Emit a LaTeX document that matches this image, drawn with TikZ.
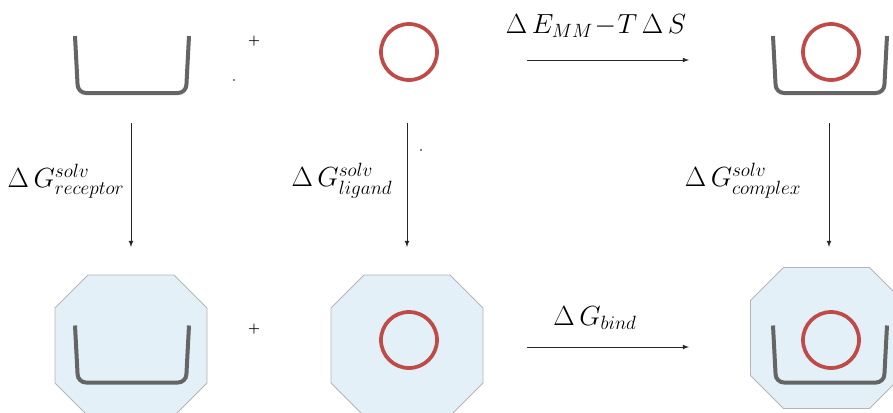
\documentclass[tikz,border=0pt]{standalone}
\usepackage{amsmath}
\usetikzlibrary{arrows}
\definecolor{cupgray}{RGB}{101,101,101}
\definecolor{ringred}{RGB}{190,75,72}
\definecolor{solvblue}{RGB}{227,240,248}
\definecolor{octogray}{RGB}{181,181,181}
% receptor cup, centred at (#1,#2)
\newcommand{\cupat}[2]{\draw[cup] (#1-57,#2-28.5) -- (#1-54,#2+28.5) -- (#1+54,#2+28.5) -- (#1+57,#2-28.5);}
% solvent box, centred at (#1,#2)
\newcommand{\octat}[2]{\draw[octo] (#1-43,#2-70.5) -- (#1+43,#2-70.5) -- (#1+76,#2-37.5) -- (#1+76,#2+37.5)
  -- (#1+43,#2+70.5) -- (#1-43,#2+70.5) -- (#1-76,#2+37.5) -- (#1-76,#2-37.5) -- cycle;}

\begin{document}
\begin{tikzpicture}[x=0.75pt, y=-0.75pt, >=latex,   %Pfeilspitzen
	cup/.style={draw=cupgray, line width=3pt, rounded corners=6pt},
	ring/.style={circle, draw=ringred, line width=2.8pt, minimum size=42pt, inner sep=0pt},
	octo/.style={fill=solvblue, draw=octogray, line width=0.6pt},
	flow/.style={->, draw=black!85, line width=0.6pt},
	term/.style={font=\fontsize{21}{24}\selectfont, inner sep=1pt},
	font=\footnotesize]
	\useasboundingbox (0,0) rectangle (893,412);
	% solvent boxes
	\octat{131}{345.5}
	\octat{407}{345.5}
	\octat{826.5}{338}
	% gas phase
	\cupat{132}{64.5}
	\node[ring] (lig) at (409,52) {};
	\cupat{830}{64.5}
	\node[ring] (cplx) at (831,52) {};
	% solvated
	\cupat{132}{354}
	\node[ring] (ligsolv) at (409,340) {};
	\cupat{830}{354}
	\node[ring] (cplxsolv) at (831,340) {};
	% plus signs and dots
	\node[font=\normalsize] (plusgas) at (254,41) {$\boldsymbol{+}$};
	\node[font=\normalsize] (plussolv) at (254,329) {$\boldsymbol{+}$};
	\fill (234,80) circle (0.9);
	\fill (421,150) circle (0.9);
	% arrow ends
	\coordinate (gasL) at (527,60);
	\coordinate (gasR) at (689,60);
	\coordinate (solvL) at (527,347);
	\coordinate (solvR) at (689,347);
	\coordinate (recT) at (131,123);
	\coordinate (recB) at (131,247);
	\coordinate (ligT) at (407,123);
	\coordinate (ligB) at (407,247);
	\coordinate (cplxT) at (829,123);
	\coordinate (cplxB) at (829,247);
	\draw[flow] (gasL) -- (gasR);
	\draw[flow] (solvL) -- (solvR);
	\draw[flow] (recT) -- (recB);
	\draw[flow] (ligT) -- (ligB);
	\draw[flow] (cplxT) -- (cplxB);
	% labels
	\node[term] (dEmm) at (596,26) {$\Delta\,E_{MM}\!-\!T\,\Delta\,S$};
	\node[term] (dGbind) at (595,318) {$\Delta\,G_{bind}$};
	\node[term] (dGrec) at (66,181) {$\Delta\,G^{solv}_{receptor}$};
	\node[term] (dGlig) at (342,181) {$\Delta\,G^{solv}_{ligand}$};
	\node[term] (dGcplx) at (743,181) {$\Delta\,G^{solv}_{complex}$};
\end{tikzpicture}
\end{document}
